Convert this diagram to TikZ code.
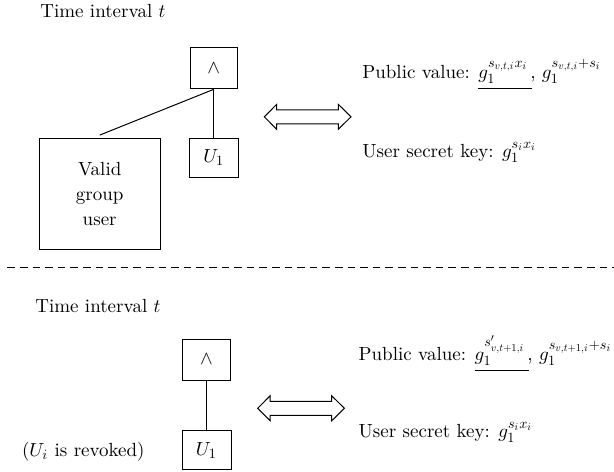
\documentclass[tikz,border=0pt]{standalone}
\DeclareFontShape{OML}{cmm}{m}{it}{<->cmmi10}{}
\DeclareFontShape{OMS}{cmsy}{m}{n}{<->cmsy10}{}
\DeclareFontShape{OT1}{cmr}{m}{n}{<->cmr10}{}
\DeclareMathSizes{9.5}{9.5}{7.1}{5.3}
\begin{document}
\begin{tikzpicture}[x=0.5pt,y=-0.5pt,
  font=\fontsize{9.5}{11.5}\selectfont,
  box/.style={draw, line width=0.5pt, inner sep=0pt},
  conn/.style={line width=0.5pt},
  lbl/.style={anchor=base west, inner sep=0pt},
  dblarrow/.pic={\draw[line width=0.5pt] (0,0) -- (12.4,-12.5) -- (12.4,-7) -- (74,-7) -- (74,-12.5) -- (86.7,0) -- (74,12.5) -- (74,7) -- (12.4,7) -- (12.4,12.5) -- cycle;}]
\useasboundingbox (0,0) rectangle (614,471);
% top part
\node[lbl] (t1) at (40,18) {Time interval $t$};
\node[box, minimum width=23.5pt, minimum height=20.5pt] (and1) at (213.8,68.3) {$\wedge$};
\node[box, minimum width=24.5pt, minimum height=19.5pt] (u1) at (213.8,157.5) {$U_1$};
\node[box, minimum width=60.5pt, minimum height=55.5pt, align=center, font=\fontsize{9.5}{12.5}\selectfont] (valid) at (99.7,193.7) {Valid\\group\\user};
\draw[conn] (and1.south) -- (u1.north);
\draw[conn] (and1.south) -- ([yshift=1.3pt]valid.north);
\pic at (264.3,116.8) {dblarrow};
\node[lbl] (pv1) at (362,78) {Public value: $\underline{g_1^{s_{v,t,i}x_i}\kern2pt\rule[-4pt]{0pt}{0pt}}\kern-1pt$, $g_1^{s_{v,t,i}+s_i}$};
\node[lbl] (sk1) at (362,157) {User secret key: $g_1^{s_ix_i}$};
% separator
\draw[conn, dash pattern=on 3.8pt off 2.5pt] (7.3,267.7) -- (614,267.7);
% bottom part
\node[lbl] (t2) at (35,312) {Time interval $t$};
\node[box, minimum width=24pt, minimum height=20.5pt] (and2) at (206.5,359.7) {$\wedge$};
\node[box, minimum width=24.5pt, minimum height=19.5pt] (u2) at (206.5,450.4) {$U_1$};
\draw[conn] (and2.south) -- (u2.north);
\node[lbl] (rev) at (21.7,456.7) {($U_i$ is revoked)};
\pic at (257.7,408.3) {dblarrow};
\node[lbl] (pv2) at (358.3,360) {Public value: $\underline{g_1^{s'_{v,t+1,i}}\kern2pt\rule[-4pt]{0pt}{0pt}}\kern-1pt$, $g_1^{s_{v,t+1,i}+s_i}$};
\node[lbl] (sk2) at (358.3,437) {User secret key: $g_1^{s_ix_i}$};
\end{tikzpicture}
\end{document}
